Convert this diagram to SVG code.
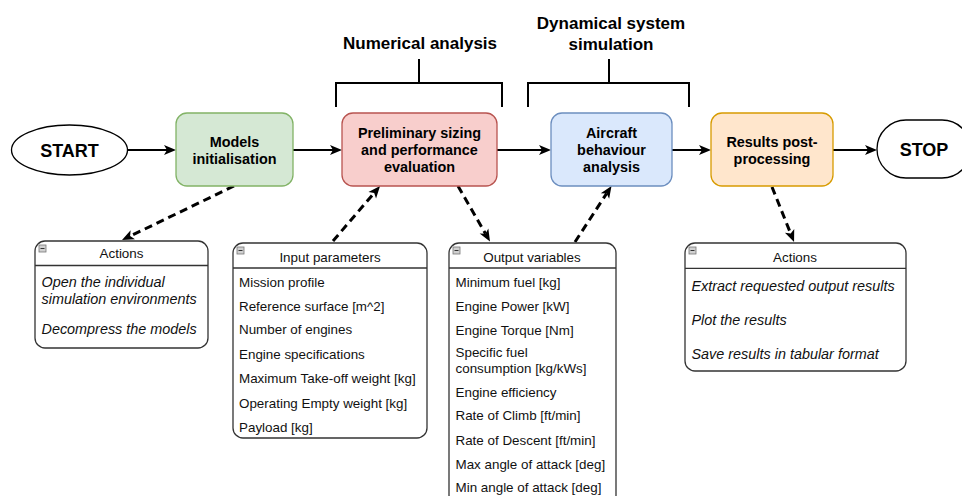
<svg xmlns="http://www.w3.org/2000/svg" width="962" height="496" viewBox="0 0 962 496">
<style>
  .t { font-family: "Liberation Sans", Arial, sans-serif; fill: #000; }
  .nb { font-size: 14.4px; font-weight: bold; text-anchor: middle; }
  .hd { font-size: 17px; font-weight: bold; text-anchor: middle; }
  .term { font-size: 18px; font-weight: bold; text-anchor: middle; }
  .ttl { font-size: 13.4px; text-anchor: middle; fill: #111; }
  .it { font-size: 13.4px; fill: #111; }
  .itl { font-size: 14.4px; font-style: italic; fill: #111; }
  .list { fill: #fff; stroke: #333; stroke-width: 1.3; }
  .sep { stroke: #333; stroke-width: 1.3; }
  .icon { fill: #d0d0d0; stroke: #777; stroke-width: 0.8; }
  .flow { stroke: #000; stroke-width: 2; fill: none; marker-end: url(#arr); }
  .dash { stroke: #000; stroke-width: 3; fill: none; stroke-dasharray: 8 5; marker-end: url(#arr); }
  .br { stroke: #000; stroke-width: 2; fill: none; }
</style>
<defs>
  <marker id="arr" markerUnits="userSpaceOnUse" markerWidth="12" markerHeight="10" refX="3" refY="5" orient="auto" overflow="visible">
    <path d="M0,0 L12,5 L0,10 L3,5 z" fill="#000" stroke="none"/>
  </marker>
</defs>
<rect width="962" height="496" fill="#fff"/>

<g id="connectors">
  <line class="flow" x1="128" y1="150" x2="167" y2="150"/>
  <line class="flow" x1="293" y1="150" x2="333" y2="150"/>
  <line class="flow" x1="497" y1="150" x2="542" y2="150"/>
  <line class="flow" x1="672" y1="150" x2="702" y2="150"/>
  <line class="flow" x1="833" y1="150" x2="868" y2="150"/>
  <line class="dash" x1="234" y1="186" x2="130.1" y2="236.1"/>
  <line class="dash" x1="333" y1="241" x2="374.2" y2="192.9"/>
  <line class="dash" x1="458" y1="186" x2="485.5" y2="233.7"/>
  <line class="dash" x1="575" y1="242" x2="606.6" y2="193.5"/>
  <line class="dash" x1="772" y1="187" x2="790.7" y2="233.6"/>
</g>

<g id="bracket-numerical">
  <path class="br" d="M336,107 V83 H502 V107 M419,83 V59"/>
  <text class="t hd" x="420" y="49">Numerical analysis</text>
</g>
<g id="bracket-dynamical">
  <path class="br" d="M528,107 V83 H689 V107 M609,83 V59"/>
  <text class="t hd" x="611" y="29">Dynamical system</text>
  <text class="t hd" x="611" y="50">simulation</text>
</g>

<g id="start">
  <ellipse cx="69.5" cy="150" rx="58" ry="25" fill="#fff" stroke="#000" stroke-width="1.3"/>
  <text class="t term" x="69.5" y="156.5">START</text>
</g>
<g id="models">
  <rect x="176" y="113" width="117" height="73" rx="11" fill="#d5e8d4" stroke="#82b366" stroke-width="1.3"/>
  <text class="t nb" x="234.5" y="146.5">Models</text>
  <text class="t nb" x="234.5" y="164">initialisation</text>
</g>
<g id="preliminary">
  <rect x="342" y="113" width="155" height="73" rx="11" fill="#f8cecc" stroke="#b85450" stroke-width="1.3"/>
  <text class="t nb" x="419.5" y="138">Preliminary sizing</text>
  <text class="t nb" x="419.5" y="155">and performance</text>
  <text class="t nb" x="419.5" y="172">evaluation</text>
</g>
<g id="aircraft">
  <rect x="551" y="113" width="121" height="73" rx="11" fill="#dae8fc" stroke="#6c8ebf" stroke-width="1.3"/>
  <text class="t nb" x="611.5" y="138">Aircraft</text>
  <text class="t nb" x="611.5" y="155">behaviour</text>
  <text class="t nb" x="611.5" y="172">analysis</text>
</g>
<g id="results">
  <rect x="711" y="113" width="122" height="73" rx="11" fill="#ffe6cc" stroke="#d79b00" stroke-width="1.3"/>
  <text class="t nb" x="772" y="146.5">Results post-</text>
  <text class="t nb" x="772" y="164">processing</text>
</g>
<g id="stop">
  <rect x="877" y="120" width="94" height="58" rx="29" fill="#fff" stroke="#000" stroke-width="1.3"/>
  <text class="t term" x="924" y="155.5">STOP</text>
</g>

<g id="actions-1">
  <rect class="list" x="35" y="241" width="173" height="107" rx="10"/>
  <line class="sep" x1="35" y1="265.5" x2="208" y2="265.5"/>
  <rect class="icon" x="39" y="245" width="7" height="7"/>
  <line x1="40.5" y1="248.5" x2="44.5" y2="248.5" stroke="#333" stroke-width="1"/>
  <text class="t ttl" x="121.5" y="258">Actions</text>
  <text class="t itl" x="41.5" y="286.5">Open the individual</text>
  <text class="t itl" x="41.5" y="304">simulation environments</text>
  <text class="t itl" x="41.5" y="334">Decompress the models</text>
</g>

<g id="input-parameters">
  <rect class="list" x="233" y="243" width="194" height="195" rx="10"/>
  <line class="sep" x1="233" y1="268" x2="427" y2="268"/>
  <rect class="icon" x="237" y="247" width="7" height="7"/>
  <line x1="238.5" y1="250.5" x2="242.5" y2="250.5" stroke="#333" stroke-width="1"/>
  <text class="t ttl" x="330" y="261.5">Input parameters</text>
  <text class="t it" x="239" y="286.5">Mission profile</text>
  <text class="t it" x="239" y="310.5">Reference surface [m^2]</text>
  <text class="t it" x="239" y="334">Number of engines</text>
  <text class="t it" x="239" y="358.5">Engine specifications</text>
  <text class="t it" x="239" y="382.5">Maximum Take-off weight [kg]</text>
  <text class="t it" x="239" y="407.5">Operating Empty weight [kg]</text>
  <text class="t it" x="239" y="431.5">Payload [kg]</text>
</g>

<g id="output-variables">
  <rect class="list" x="449" y="243" width="167" height="262" rx="10"/>
  <line class="sep" x1="449" y1="268" x2="616" y2="268"/>
  <rect class="icon" x="453" y="247" width="7" height="7"/>
  <line x1="454.5" y1="250.5" x2="458.5" y2="250.5" stroke="#333" stroke-width="1"/>
  <text class="t ttl" x="532" y="261.5">Output variables</text>
  <text class="t it" x="455.5" y="286.5">Minimum fuel [kg]</text>
  <text class="t it" x="455.5" y="310.5">Engine Power [kW]</text>
  <text class="t it" x="455.5" y="334.5">Engine Torque [Nm]</text>
  <text class="t it" x="455.5" y="356.5">Specific fuel</text>
  <text class="t it" x="455.5" y="373">consumption [kg/kWs]</text>
  <text class="t it" x="455.5" y="396.5">Engine efficiency</text>
  <text class="t it" x="455.5" y="420">Rate of Climb [ft/min]</text>
  <text class="t it" x="455.5" y="444.5">Rate of Descent [ft/min]</text>
  <text class="t it" x="455.5" y="468.5">Max angle of attack [deg]</text>
  <text class="t it" x="455.5" y="492">Min angle of attack [deg]</text>
</g>

<g id="actions-2">
  <rect class="list" x="685" y="243" width="221" height="128" rx="10"/>
  <line class="sep" x1="685" y1="268.3" x2="906" y2="268.3"/>
  <rect class="icon" x="689" y="247" width="7" height="7"/>
  <line x1="690.5" y1="250.5" x2="694.5" y2="250.5" stroke="#333" stroke-width="1"/>
  <text class="t ttl" x="795" y="261.5">Actions</text>
  <text class="t itl" x="691.5" y="291">Extract requested output results</text>
  <text class="t itl" x="691.5" y="325">Plot the results</text>
  <text class="t itl" x="691.5" y="359">Save results in tabular format</text>
</g>
</svg>
